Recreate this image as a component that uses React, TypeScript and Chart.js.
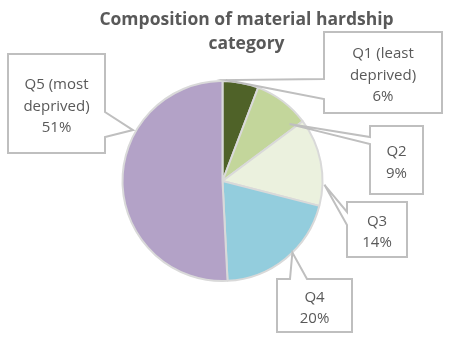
import React, { useEffect, useRef } from "react";
import { Chart, registerables } from "chart.js";

Chart.register(...registerables);

// ---- data ----
const titleLines = ["Composition of material hardship", "category"];
const categories = ["Q1", "Q2", "Q3", "Q4", "Q5"];
const categoryNotes = ["(least deprived)", "", "", "", "(most deprived)"];
const shares = [5.8, 9.0, 14.2, 20.2, 50.8];
const sliceColors = ["#4F6228", "#C3D69B", "#EBF1DE", "#93CDDD", "#B3A2C7"];

// ---- callout layout (positions only) ----
type Callout = {
  box: [number, number, number, number];
  side: "left" | "right" | "top";
  wedge: [number, number];
  tipFrac: number;
  tipR: number;
  lines: string[];
};

function labelLines(i: number): string[] {
  const pct = Math.round(shares[i]) + "%";
  if (i === 0) return ["Q1 (least", "deprived)", pct];
  if (i === 4) return ["Q5 (most", "deprived)", pct];
  return [categories[i], pct];
}

const calloutLayout: Omit<Callout, "lines">[] = [
  { box: [324, 32, 442, 113], side: "left", wedge: [79, 99], tipFrac: 0.1, tipR: 1.01 },
  { box: [370, 126, 423, 194], side: "left", wedge: [137, 144], tipFrac: 0.89, tipR: 0.88 },
  { box: [347, 202, 407, 257], side: "left", wedge: [212, 225], tipFrac: 0.76, tipR: 1.02 },
  { box: [277, 279, 352, 332], side: "top", wedge: [290, 307], tipFrac: 0.43, tipR: 1.0 },
  { box: [8, 54, 105, 153], side: "right", wedge: [112, 137], tipFrac: 0.67, tipR: 1.03 },
];

const TEXT_COLOR = "#595959";
const LINE_COLOR = "#BFBFBF";

const calloutPlugin = {
  id: "callouts",
  afterDatasetsDraw(chart: any) {
    const ctx: CanvasRenderingContext2D = chart.ctx;
    const meta = chart.getDatasetMeta(0);
    ctx.save();
    meta.data.forEach((arc: any, i: number) => {
      const lay = calloutLayout[i];
      if (!lay) return;
      const { x, y, startAngle, endAngle, outerRadius } = arc.getProps(
        ["x", "y", "startAngle", "endAngle", "outerRadius"],
        true
      );
      const a = startAngle + lay.tipFrac * (endAngle - startAngle);
      const tx = x + Math.cos(a) * outerRadius * lay.tipR;
      const ty = y + Math.sin(a) * outerRadius * lay.tipR;
      const [x1, y1, x2, y2] = lay.box;
      const [w1, w2] = lay.wedge;
      ctx.beginPath();
      if (lay.side === "left") {
        ctx.moveTo(x1, y1);
        ctx.lineTo(x2, y1);
        ctx.lineTo(x2, y2);
        ctx.lineTo(x1, y2);
        ctx.lineTo(x1, w2);
        ctx.lineTo(tx, ty);
        ctx.lineTo(x1, w1);
        ctx.closePath();
      } else if (lay.side === "right") {
        ctx.moveTo(x1, y1);
        ctx.lineTo(x2, y1);
        ctx.lineTo(x2, w1);
        ctx.lineTo(tx, ty);
        ctx.lineTo(x2, w2);
        ctx.lineTo(x2, y2);
        ctx.lineTo(x1, y2);
        ctx.closePath();
      } else {
        ctx.moveTo(x1, y1);
        ctx.lineTo(w1, y1);
        ctx.lineTo(tx, ty);
        ctx.lineTo(w2, y1);
        ctx.lineTo(x2, y1);
        ctx.lineTo(x2, y2);
        ctx.lineTo(x1, y2);
        ctx.closePath();
      }
      ctx.fillStyle = "#FFFFFF";
      ctx.fill();
      ctx.strokeStyle = LINE_COLOR;
      ctx.lineWidth = 2;
      ctx.lineJoin = "miter";
      ctx.stroke();

      const lines = labelLines(i);
      const lh = 21.5;
      const cx = (x1 + x2) / 2;
      const cy = (y1 + y2) / 2 + 7;
      ctx.fillStyle = TEXT_COLOR;
      ctx.font = "15px 'Open Sans'";
      ctx.textAlign = "center";
      ctx.textBaseline = "alphabetic";
      lines.forEach((t, k) => {
        ctx.fillText(t, cx, cy + (k - (lines.length - 1) / 2) * lh);
      });
    });

    // title
    ctx.fillStyle = TEXT_COLOR;
    ctx.font = "bold 17.5px 'Open Sans'";
    ctx.textAlign = "center";
    ctx.textBaseline = "alphabetic";
    ctx.fillText(titleLines[0], 246.5, 25);
    ctx.fillText(titleLines[1], 246.5, 48.5);
    ctx.restore();
  },
};

export default function App() {
  const ref = useRef<HTMLCanvasElement | null>(null);
  useEffect(() => {
    if (!ref.current) return;
    const chart = new Chart(ref.current, {
      type: "pie",
      data: {
        labels: categories.map((c, i) => (categoryNotes[i] ? c + " " + categoryNotes[i] : c)),
        datasets: [
          {
            data: shares,
            backgroundColor: sliceColors,
            borderColor: "#D9D9D9",
            borderWidth: 2,
          },
        ],
      },
      options: {
        responsive: false,
        maintainAspectRatio: false,
        devicePixelRatio: 1,
        animation: false,
        layout: { padding: { left: 121.5, top: 80, right: 128.5, bottom: 73 } },
        plugins: {
          legend: { display: false },
          title: { display: false },
          tooltip: { enabled: false },
        },
      },
      plugins: [calloutPlugin],
    });
    return () => chart.destroy();
  }, []);
  return (
    <div style={{ position: "absolute", left: 0, top: 0, width: 452, height: 355, background: "#fff" }}>
      <canvas ref={ref} width={452} height={355} />
    </div>
  );
}
